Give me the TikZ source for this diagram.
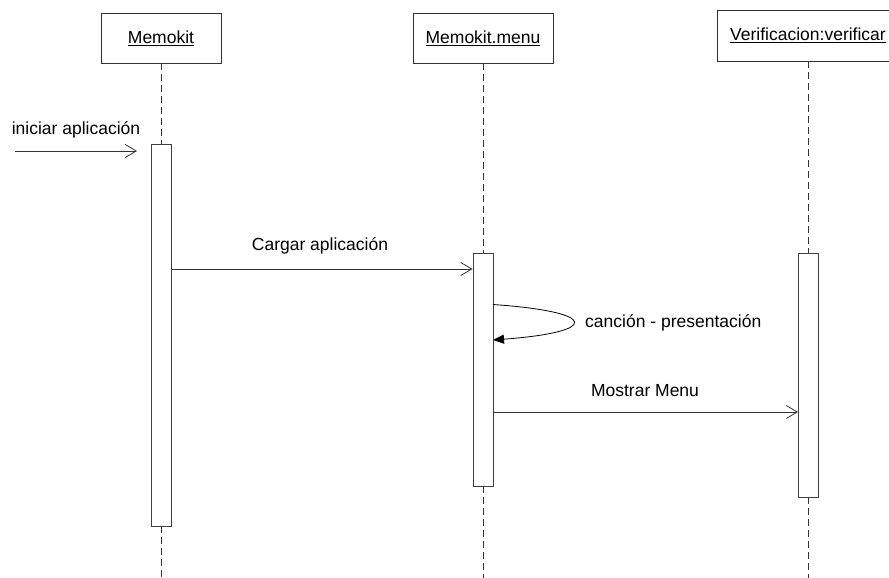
\documentclass[tikz,border=0pt]{standalone}
\usepackage{fontspec}
\setmainfont{Liberation Sans}
\usetikzlibrary{arrows.meta}
\tikzset{
  objbox/.style={draw=black!80, line width=0.9pt, fill=white, inner sep=0pt},
  actbox/.style={draw=black!75, line width=0.9pt, fill=white, inner sep=0pt, minimum width=20pt},
  lifeline/.style={draw=black!80, line width=0.9pt, dash pattern=on 7pt off 4pt},
  msg/.style={draw=black!80, line width=0.8pt, -{Straight Barb[length=11pt,width=13pt,line width=0.8pt]}},
  selfmsg/.style={draw=black, line width=0.8pt, -{Triangle[length=11pt,width=9pt]}},
  lbl/.style={font=\fontsize{17.5}{21}\selectfont, inner sep=0pt}
}
\begin{document}
\begin{tikzpicture}[x=1pt,y=-1pt]
\clip (0,0) rectangle (889,578);
\fill[white] (0,0) rectangle (889,578);
% object boxes
\node[objbox, minimum width=120pt, minimum height=50pt] (memo) at (161,38) {};
\node[lbl] at (memo.center) {\underline{Memokit}};
\node[objbox, minimum width=140pt, minimum height=50pt] (menu) at (483,38) {};
\node[lbl] at (menu.center) {\underline{Memokit.menu}};
\node[objbox, minimum width=182pt, minimum height=51pt] (verif) at (808,35.5) {};
\node[lbl] at (verif.center) {\underline{Verificacion:verificar}};
% activations
\node[actbox, minimum height=382pt] (amemo) at (161,335) {};
\node[actbox, minimum height=233pt] (amenu) at (483,369.5) {};
\node[actbox, minimum height=244pt] (averif) at (808.5,375) {};
% lifelines
\coordinate (memoend) at (161,578);
\coordinate (menuend) at (483,578);
\coordinate (verifend) at (808.5,578);
\draw[lifeline] (memo.south) -- (amemo.north);
\draw[lifeline] (amemo.south) -- (memoend);
\draw[lifeline] (menu.south) -- (amenu.north);
\draw[lifeline] (amenu.south) -- (menuend);
\draw[lifeline] (verif.south -| averif.north) -- (averif.north);
\draw[lifeline] (averif.south) -- (verifend);
% messages
\coordinate (start) at (15,151);
\coordinate (iniend) at (137,151);
\draw[msg] (start) -- (iniend);
\node[lbl] at (76,130) {iniciar aplicación};
\draw[msg] (amemo.east |- 0,269) -- (amenu.west |- 0,269);
\node[lbl] at (320,246) {Cargar aplicación};
\coordinate (s1) at (493,304.5);
\coordinate (s2) at (493,340);
\draw[selfmsg] (s1) .. controls (600,312) and (600,332) .. (s2);
\node[lbl, anchor=west] at (585,323) {canción - presentación};
\draw[msg] (amenu.east |- 0,412) -- (averif.west |- 0,412);
\node[lbl] at (645,391) {Mostrar Menu};
\end{tikzpicture}
\end{document}
